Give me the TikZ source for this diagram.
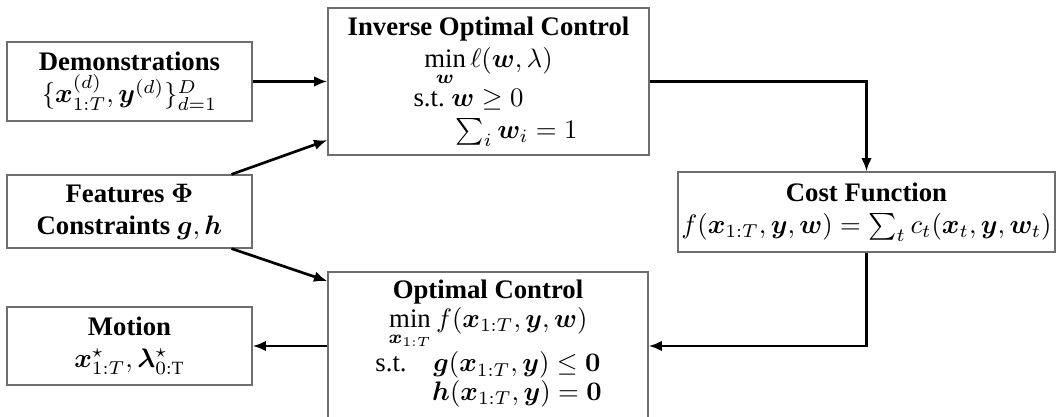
\documentclass[tikz,border=0pt]{standalone}
\usepackage{amsmath,amssymb,bm}
\usepackage{fontspec}
\setmainfont{Liberation Serif}
\usetikzlibrary{arrows.meta, positioning, calc}
\definecolor{frameGray}{HTML}{6E6E6E}
\newcommand{\pxu}{0.374pt}
\tikzset{
  block/.style 2 args={draw=frameGray, line width=0.45pt, fill=white, align=center,
                       inner sep=1pt, minimum width=#1*\pxu, minimum height=#2*\pxu},
  arrow/.style={-{Latex[length=5pt,width=4pt]}, line width=1pt},
}

\begin{document}
\begin{tikzpicture}[x=\pxu, y=-\pxu]
\useasboundingbox (0,0) rectangle (1062,417);
% inputs on the left
\node[block={245}{79}] (demo) at (129.5,81.5)
  {\textbf{Demonstrations}\\ $\{\bm x^{(d)}_{1:T},\bm y^{(d)}\}_{d=1}^{D}$};
\node[block={245}{73}] (feat) at (129.5,211.5)
  {\textbf{Features $\bm\Phi$}\\ \textbf{Constraints $\bm g,\bm h$}};
\node[block={245}{78}] (motion) at (129.5,346)
  {\textbf{Motion}\\ $\bm x^\star_{1:T},\bm\lambda^\star_{0:\mathrm{T}}$};
% the two solvers
\node[block={321}{147}] (ioc) at (488.5,81.5)
  {\textbf{Inverse Optimal Control}\\ $\min\limits_{\bm w}\ell(\bm w,\lambda)$\\
   s.t.\ $\bm w\ge 0$\rule{15pt}{0pt}\\ \rule{21pt}{0pt}$\sum_i\bm w_i=1$};
\node[block={320}{148}] (oc) at (488,346)
  {\textbf{Optimal Control}\\[-1pt] $\min\limits_{\bm x_{1:T}} f(\bm x_{1:T},\bm y,\bm w)$\\
   s.t.\quad$\bm g(\bm x_{1:T},\bm y)\le\bm 0$\\[-1.5pt]
   \phantom{s.t.\quad}$\bm h(\bm x_{1:T},\bm y)=\bm 0$\rule[-4.5pt]{0pt}{4.5pt}};
\node[block={377}{80}] (cost) at (866.5,212)
  {\textbf{Cost Function}\\ $f(\bm x_{1:T},\bm y,\bm w)=\sum_t c_t(\bm x_t,\bm y,\bm w_t)$};
% connectors
\draw[arrow] (demo) -- (ioc);
\draw[arrow] (feat.20) -- (ioc.200);
\draw[arrow] (feat.-20) -- (oc.158);
\draw[arrow] (ioc) -| (cost);
\draw[arrow] (cost) |- (oc);
\draw[arrow] (oc) -- (motion);
\end{tikzpicture}
\end{document}
